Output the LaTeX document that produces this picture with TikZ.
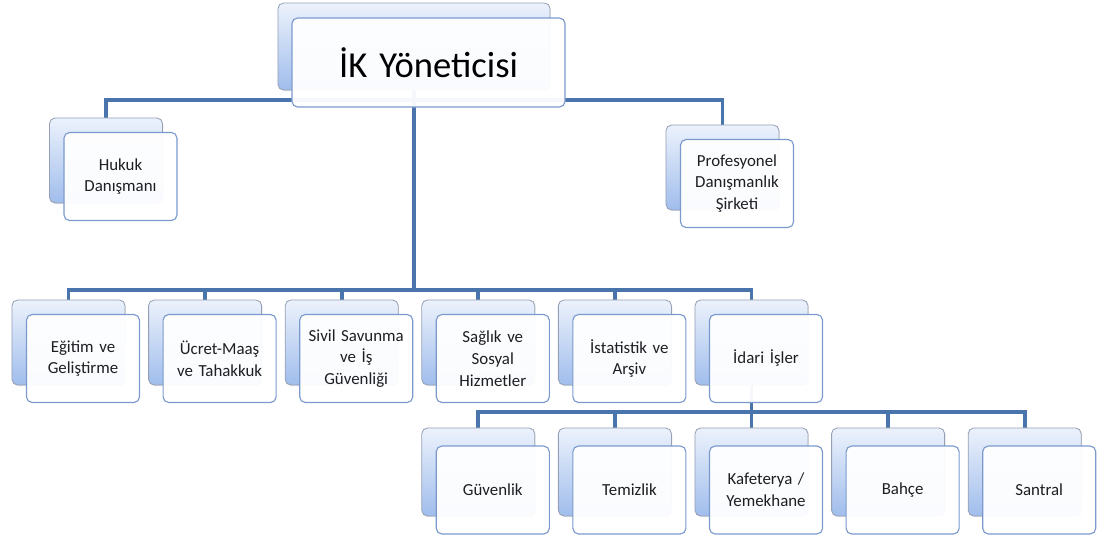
\documentclass[tikz,border=0pt]{standalone}
\usepackage{fontspec}
\setmainfont{Carlito}[WordSpace=0.75]
\usepackage{tikz}
\usetikzlibrary{positioning, backgrounds, shadows}
\definecolor{linkblue}{RGB}{74,116,172}
\definecolor{backtop}{RGB}{236,242,252}
\definecolor{backbot}{RGB}{160,189,236}
\definecolor{backedge}{RGB}{150,160,180}
\definecolor{frontedge}{RGB}{122,154,206}
\definecolor{boxtext}{RGB}{30,30,35}

\begin{document}
\begin{tikzpicture}[x=0.025cm, y=-0.025cm,
    back_box/.style={draw=backedge, line width=0.6pt, rounded corners=4pt, top color=backtop, bottom color=backbot, minimum width=2.825cm, minimum height=2.125cm, drop shadow={opacity=0.2, shadow xshift=0.6pt, shadow yshift=-0.8pt}},
    front_box/.style={draw=frontedge, line width=0.8pt, rounded corners=4pt, fill=white, fill opacity=0.95, text opacity=1, minimum width=2.825cm, minimum height=2.2cm, text width=2.7cm, align=center, inner sep=1pt, font=\fontsize{12}{15.5}\selectfont, text=boxtext},
    link/.style={draw=linkblue, line width=2.6pt}
]
    \useasboundingbox (0,0) rectangle (1103,541);

    % Top manager
    \node[back_box, minimum width=6.8cm, minimum height=2.175cm] (ikb) at (414,46.5) {};
    \node[front_box, minimum width=6.825cm, minimum height=2.225cm, text width=6.5cm, font=\fontsize{26}{30}\selectfont, text=black] (ik) at ([shift={(14.5,16)}]ikb.center) {İK Yöneticisi};

    % Advisors
    \node[back_box] (hukukb) at (106,160.5) {};
    \node[front_box] (hukuk) at ([shift={(14.5,16)}]hukukb.center) {Hukuk\\Danışmanı};
    \node[back_box] (profb) at (722.5,167.5) {};
    \node[front_box] (prof) at ([shift={(14.5,16)}]profb.center) {Profesyonel\\Danışmanlık\\Şirketi};

    % Departments
    \node[back_box] (egitimb) at (68.5,342.5) {};
    \node[front_box] (egitim) at ([shift={(14.5,16)}]egitimb.center) {Eğitim ve\\Geliştirme};
    \node[back_box] (ucretb) at (205.1,342.5) {};
    \node[front_box] (ucret) at ([shift={(14.5,16)}]ucretb.center) {Ücret-Maaş\\ve Tahakkuk};
    \node[back_box] (sivilb) at (341.7,342.5) {};
    \node[front_box] (sivil) at ([shift={(14.5,16)}]sivilb.center) {Sivil Savunma\\ve İş\\Güvenliği};
    \node[back_box] (saglikb) at (478.3,342.5) {};
    \node[front_box] (saglik) at ([shift={(14.5,16)}]saglikb.center) {Sağlık ve\\Sosyal\\Hizmetler};
    \node[back_box] (istatb) at (614.9,342.5) {};
    \node[front_box] (istat) at ([shift={(14.5,16)}]istatb.center) {İstatistik ve\\Arşiv};
    \node[back_box] (idarib) at (751.5,342.5) {};
    \node[front_box] (idari) at ([shift={(14.5,16)}]idarib.center) {İdari İşler};

    % Administrative units
    \node[back_box, minimum height=2.2cm] (guvenb) at (478.3,472) {};
    \node[front_box] (guven) at ([shift={(14.5,18)}]guvenb.center) {Güvenlik};
    \node[back_box, minimum height=2.2cm] (temizb) at (614.9,472) {};
    \node[front_box] (temiz) at ([shift={(14.5,18)}]temizb.center) {Temizlik};
    \node[back_box, minimum height=2.2cm] (kafeb) at (751.5,472) {};
    \node[front_box] (kafe) at ([shift={(14.5,18)}]kafeb.center) {Kafeterya /\\Yemekhane};
    \node[back_box, minimum height=2.2cm] (bahceb) at (888.1,472) {};
    \node[front_box] (bahce) at ([shift={(14.5,18)}]bahceb.center) {Bahçe};
    \node[back_box, minimum height=2.2cm] (santralb) at (1024.7,472) {};
    \node[front_box] (santral) at ([shift={(14.5,18)}]santralb.center) {Santral};

    % Bus coordinates
    \coordinate (bus_top) at (414,100);
    \coordinate (bus_dept) at (414,290);
    \coordinate (bus_idari) at (751.5,412);

    % Connectors behind the boxes
    \begin{scope}[on background layer]
        \draw[link] (hukukb.north) |- (bus_top) -| (profb.north);
        \draw[link] (ikb.center) -- (bus_dept);
        \draw[link] (egitimb.north) |- (bus_dept) -| (idarib.north);
        \draw[link] (ucretb.north) -- (ucretb.north |- bus_dept);
        \draw[link] (sivilb.north) -- (sivilb.north |- bus_dept);
        \draw[link] (saglikb.north) -- (saglikb.north |- bus_dept);
        \draw[link] (istatb.north) -- (istatb.north |- bus_dept);
        \draw[link] (idarib.center) -- (bus_idari);
        \draw[link] (guvenb.north) |- (bus_idari) -| (santralb.north);
        \draw[link] (temizb.north) -- (temizb.north |- bus_idari);
        \draw[link] (kafeb.north) -- (kafeb.north |- bus_idari);
        \draw[link] (bahceb.north) -- (bahceb.north |- bus_idari);
    \end{scope}

\end{tikzpicture}
\end{document}
